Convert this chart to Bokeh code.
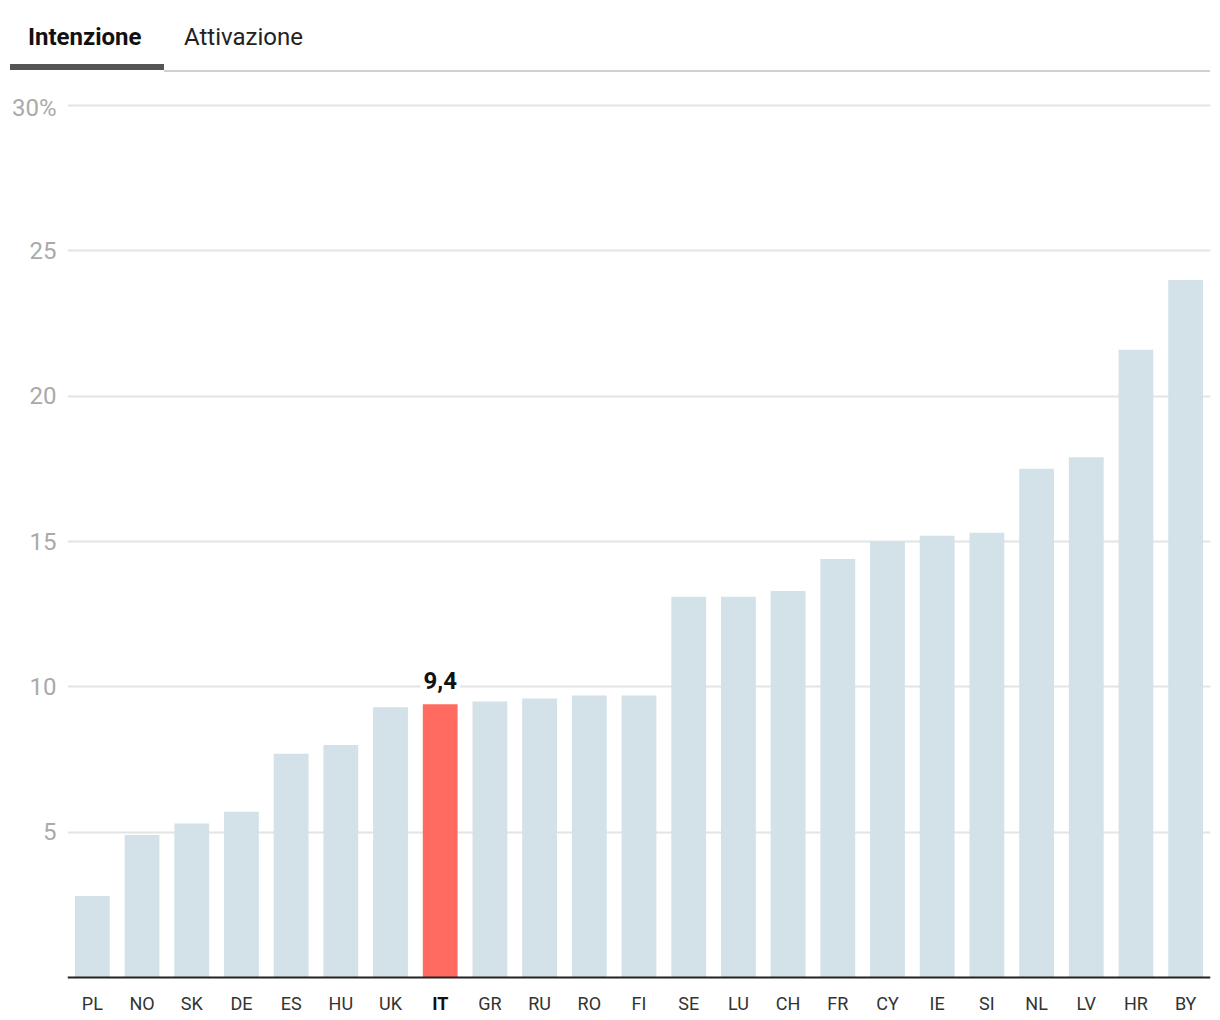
from bokeh.plotting import figure
from bokeh.models import Range1d, FactorRange, FixedTicker, ColumnDataSource, Span, Div
from bokeh.layouts import column
from bokeh.embed import file_html
from bokeh.resources import INLINE
from bokeh.core.properties import value

countries = ["PL", "NO", "SK", "DE", "ES", "HU", "UK", "IT", "GR", "RU", "RO", "FI",
             "SE", "LU", "CH", "FR", "CY", "IE", "SI", "NL", "LV", "HR", "BY"]
values = [2.8, 4.9, 5.3, 5.7, 7.7, 8.0, 9.3, 9.4, 9.5, 9.6, 9.7, 9.7,
          13.1, 13.1, 13.3, 14.4, 15.0, 15.2, 15.3, 17.5, 17.9, 21.6, 24.0]
highlight = "IT"
y_ticks = [5, 10, 15, 20, 25, 30]
y_tick_labels = {30: "30%"}
tab_labels = ["Intenzione", "Attivazione"]

FONT = "Roboto"
BAR = "#d3e1e8"
RED = "#ff6b61"

colors = [RED if c == highlight else BAR for c in countries]
styles = ["bold" if c == highlight else "normal" for c in countries]
label_colors = ["#111111" if c == highlight else "#333333" for c in countries]
src = ColumnDataSource(dict(c=countries, v=values, color=colors, style=styles,
                            lc=label_colors, zero=[0] * len(countries)))

# ---- tabs header ----
html = f"""
<div style="position:relative;width:1212px;height:93px;font-family:Roboto,sans-serif;">
  <span style="position:absolute;left:28px;top:25px;font-size:24px;line-height:24px;font-weight:bold;color:#111;white-space:nowrap;">{tab_labels[0]}</span>
  <span style="position:absolute;left:184px;top:25px;font-size:24px;line-height:24px;font-weight:normal;color:#222;white-space:nowrap;">{tab_labels[1]}</span>
  <div style="position:absolute;left:164px;top:70px;width:1046px;height:2px;background:#d0d0d0;"></div>
  <div style="position:absolute;left:10px;top:64px;width:154px;height:6px;background:#555555;"></div>
</div>
"""
tabs = Div(text=html, width=1212, height=93, styles={"margin": "0", "padding": "0"})

# ---- main chart ----
p = figure(width=1212, height=927,
           x_range=FactorRange(factors=countries, range_padding=0),
           y_range=Range1d(-1.479, 30.413),
           x_axis_location=None,
           output_backend="svg", toolbar_location=None,
           min_border_left=67, min_border_right=2, min_border_top=0, min_border_bottom=0,
           outline_line_color=None)

p.vbar(x="c", top="v", width=0.7, fill_color="color", line_color=None, source=src)

p.xgrid.visible = False
p.ygrid.ticker = FixedTicker(ticks=y_ticks)
p.ygrid.grid_line_color = "#e4e4e4"
p.ygrid.grid_line_width = 2
p.ygrid.level = "underlay"

p.yaxis.ticker = FixedTicker(ticks=y_ticks)
p.yaxis.major_label_overrides = y_tick_labels
p.yaxis.axis_line_color = None
p.yaxis.major_tick_line_color = None
p.yaxis.minor_tick_line_color = None
p.yaxis.major_tick_out = 0
p.yaxis.major_tick_in = 0
p.yaxis.major_label_text_font = FONT
p.yaxis.major_label_text_font_size = "24px"
p.yaxis.major_label_text_color = "#aaaaaa"
p.yaxis.major_label_standoff = 11

p.add_layout(Span(location=0, dimension="width", line_color="#222222", line_width=2))

# category labels
p.text(x="c", y="zero", text="c", source=src, y_offset=26,
       text_font=value(FONT), text_font_size="18px", text_font_style="style",
       text_color="lc", text_align="center", text_baseline="middle")

# value label for highlighted bar
hi = countries.index(highlight)
hv = values[hi]
p.text(x=[highlight], y=[hv], text=[f"{hv:.1f}".replace(".", ",")], y_offset=-24,
       text_font=value(FONT), text_font_size="24px", text_font_style="bold",
       text_color="#111111", text_align="center", text_baseline="alphabetic",
       background_fill_color="white", padding=3)

layout = column(tabs, p, spacing=0)
open("out.html", "w").write(file_html(layout, INLINE))
